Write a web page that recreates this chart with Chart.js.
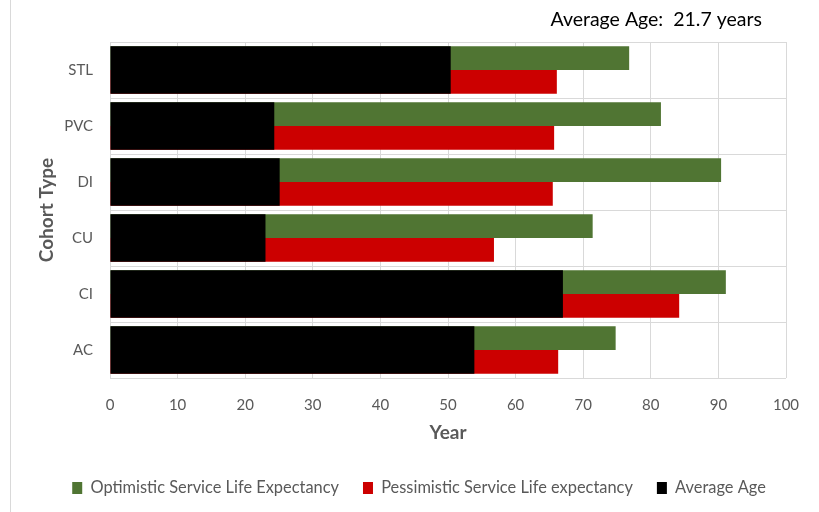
<!DOCTYPE html>
<html>
<head>
<meta charset="utf-8">
<script src="https://cdn.jsdelivr.net/npm/chart.js@4.4.1/dist/chart.umd.min.js"></script>
<style>
  html, body { margin: 0; padding: 0; background: #ffffff; }
  #wrap { width: 819px; height: 512px; position: relative; }
</style>
</head>
<body>
<div id="wrap"><canvas id="c" width="819" height="512"></canvas></div>
<script>
const categories = ['STL', 'PVC', 'DI', 'CU', 'CI', 'AC'];
const optimistic = [76.8, 81.5, 90.4, 71.4, 91.1, 74.8];
const pessimistic = [66.1, 65.7, 65.5, 56.8, 84.2, 66.3];
const averageAge = [50.4, 24.3, 25.1, 23.0, 67.0, 53.9];
const xTicks = [0, 10, 20, 30, 40, 50, 60, 70, 80, 90, 100];
const headline = 'Average Age:  21.7 years';

const FONT = 'Lato, "Open Sans", sans-serif';
const GREY = '#595959';

const framePlugin = {
  id: 'frame',
  afterLayout(chart) {
    if (chart.legend) {
      chart.legend.left += 21;
      chart.legend.right += 21;
    }
  },
  beforeDraw(chart) {
    const ctx = chart.ctx;
    ctx.save();
    ctx.fillStyle = '#ffffff';
    ctx.fillRect(0, 0, chart.width, chart.height);
    ctx.strokeStyle = '#d9d9d9';
    ctx.lineWidth = 1;
    ctx.beginPath();
    ctx.moveTo(10.5, 0);
    ctx.lineTo(10.5, chart.height);
    ctx.stroke();
    ctx.restore();
  },
  afterDraw(chart) {
    const ctx = chart.ctx;
    ctx.save();
    ctx.font = '19.5px ' + FONT;
    ctx.fillStyle = '#000000';
    ctx.textAlign = 'right';
    ctx.textBaseline = 'middle';
    ctx.fillText(headline, 762, 20);
    ctx.restore();
  }
};

new Chart(document.getElementById('c'), {
  type: 'bar',
  data: {
    labels: categories,
    datasets: [
      {
        label: 'Optimistic Service Life Expectancy',
        data: optimistic,
        backgroundColor: '#507533',
        categoryPercentage: 0.847,
        barPercentage: 1.0
      },
      {
        label: 'Pessimistic Service Life expectancy',
        data: pessimistic,
        backgroundColor: '#cc0000',
        categoryPercentage: 0.847,
        barPercentage: 1.0
      },
      {
        label: 'Average Age',
        data: averageAge,
        backgroundColor: '#000000',
        grouped: false,
        categoryPercentage: 1.0,
        barPercentage: 0.847,
        order: -1
      }
    ]
  },
  options: {
    indexAxis: 'y',
    responsive: false,
    animation: false,
    devicePixelRatio: 1,
    layout: { padding: { left: 10, right: 33, top: 42, bottom: 5.8 } },
    plugins: {
      legend: {
        position: 'bottom',
        labels: {
          font: { family: FONT, size: 16.4 },
          color: GREY,
          boxWidth: 10,
          boxHeight: 12,
          padding: 24,
          sort: (a, b) => a.datasetIndex - b.datasetIndex
        }
      },
      tooltip: { enabled: false }
    },
    scales: {
      x: {
        min: 0,
        max: 100,
        afterBuildTicks(scale) { scale.ticks = xTicks.map(v => ({ value: v })); },
        afterFit(scale) { scale.height = 77.8; },
        grid: { color: '#d9d9d9', drawTicks: false },
        border: { display: false },
        ticks: { font: { family: FONT, size: 15 }, color: GREY, padding: 18, maxRotation: 0 },
        title: {
          display: true,
          text: 'Year',
          font: { family: FONT, size: 19, weight: 'bold' },
          color: GREY,
          padding: { top: 0, bottom: 11.1 }
        }
      },
      y: {
        afterFit(scale) { scale.width = 100; },
        grid: { color: '#d9d9d9', drawTicks: false, offset: true },
        border: { color: '#d9d9d9' },
        ticks: { font: { family: FONT, size: 15 }, color: GREY, padding: 17 },
        title: {
          display: true,
          text: 'Cohort Type',
          font: { family: FONT, size: 19, weight: 'bold' },
          color: GREY,
          padding: { top: 25.6, bottom: 0 }
        }
      }
    }
  },
  plugins: [framePlugin]
});
</script>
</body>
</html>
